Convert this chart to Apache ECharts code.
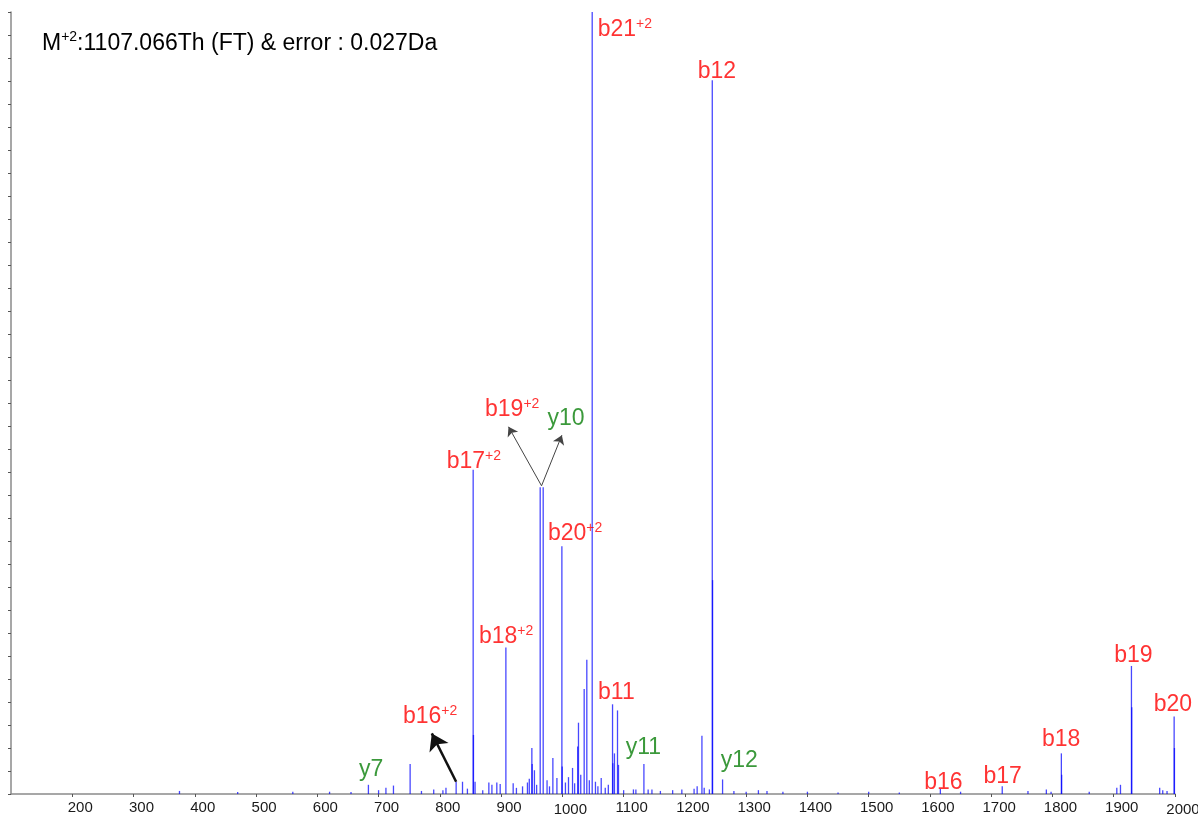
<!DOCTYPE html>
<html><head><meta charset="utf-8">
<script src="https://cdn.jsdelivr.net/npm/echarts@6/dist/echarts.min.js"></script>
<style>html,body{margin:0;padding:0;background:#fff}#c{width:1198px;height:816px}</style>
</head><body><div id="c"></div>
<script>
// ---- data (m/z, relative intensity; axis top = 102) ----
const peakMz = [375,470,560,620,655,683.4,700,712,724.3,751.5,770,790,805,810,826.6,837,845,854.4,854.9,857.5,870,880,885,893,898.5,907.8,919.7,925,935,943,946,950.2,950.7,954.4,958,963.8,968.7,975,979,984.5,991.1,999.2,999.7,1005,1010,1016.6,1020,1025,1026.3,1030,1035.6,1039.9,1044,1048.7,1054,1058,1063.4,1070,1075,1081.9,1082.4,1085,1090,1091.6,1100,1116,1120,1133.1,1140,1146.2,1160,1180,1195,1215,1220,1227.8,1231.5,1240,1244.7,1245.2,1261.5,1280,1300,1320,1334,1360,1400,1450,1500,1550,1617,1650,1718,1760,1790,1797.7,1814.5,1815,1860,1905,1911,1928.9,1929.4,1975,1980,1987,1998.6,1999.1];
const peakInt = [0.4,0.25,0.3,0.3,0.25,1.2,0.5,0.8,1.1,3.9,0.4,0.6,0.5,0.8,1.6,1.6,0.7,42.3,7.7,1.6,0.5,1.5,1.2,1.5,1.3,19.1,1.4,0.8,1.0,1.5,2.0,6.0,3.9,3.1,1.2,40.0,40.0,1.8,1.0,4.7,2.1,32.3,3.6,1.5,2.2,3.4,1.4,6.2,9.3,2.5,13.7,17.5,1.8,102,1.6,1.0,2.1,0.8,1.2,11.7,4.0,5.3,10.9,3.8,0.5,0.6,0.6,3.9,0.6,0.6,0.4,0.5,0.6,0.7,1.0,7.6,0.8,0.6,93.1,27.9,1.9,0.4,0.3,0.5,0.4,0.3,0.3,0.2,0.3,0.2,0.65,0.3,1.0,0.4,0.6,0.3,5.3,2.5,0.3,0.8,1.2,16.7,11.3,0.8,0.5,0.4,10.1,6.0];

// ion labels
const ionNames  = ['b21','b12','b17','b19','y10','b20','b18','b11','y11','y12','b16','y7','b19','b20','b16','b17','b18'];
const ionCharge = ['+2','','+2','+2','','+2','+2','','','','+2','','','','','',''];
const labelMz   = [1056.9,1220.2,810.3,872.9,974.8,975.7,863.1,1057.4,1102.6,1257.7,739.0,667.1,1900.0,1964.3,1589.7,1686.5,1781.9];
const labelInt  = [99.65,94.17,43.30,50.09,48.91,33.91,20.48,13.17,6.00,4.30,10.04,3.13,18.0,11.61,1.43,2.22,7.04];

// annotation arrows (from peak top to label)
const arrowFromMz  = [966.0, 966.0, 826.6];
const arrowFromInt = [40.2, 40.2, 1.6];
const arrowToMz    = [912.1, 999.2, 786.9];
const arrowToInt   = [47.9, 46.8, 7.9];
const arrowHeavy   = [false, false, true];

const titleMain = 'M';
const titleSup = '+2';
const titleRest = ':1107.066Th (FT) & error : 0.027Da';

const xMin = 100, xMax = 2000, xStep = 100;
const yMin = 0, yMax = 102, yStep = 3;

// ---- chart ----
const FONT = "'Liberation Sans', Arial, Helvetica, sans-serif";
const chart = echarts.init(document.getElementById('c'), null, {renderer: 'canvas'});

const peaks = peakMz.map((m, i) => [m, peakInt[i]]);
const labels = ionNames.map((n, i) => ({
  value: [labelMz[i], labelInt[i]],
  name: n,
  sup: ionCharge[i],
  kind: n.charAt(0)
}));
const arrows = arrowFromMz.map((m, i) => [
  {coord: [m, arrowFromInt[i]],
   lineStyle: {color: arrowHeavy[i] ? '#111' : '#444', width: arrowHeavy[i] ? 2.5 : 1, type: 'solid'}},
  {coord: [arrowToMz[i], arrowToInt[i]], symbolSize: arrowHeavy[i] ? 16 : 9}
]);

const axisCol = '#8a8a8a';
chart.setOption({
  animation: false,
  backgroundColor: '#fff',
  title: {
    left: 37, top: 25,
    text: '{m|' + titleMain + '}{s|' + titleSup + '}{m|' + titleRest + '}',
    textStyle: {
      fontWeight: 'normal',
      rich: {
        m: {fontSize: 23, fontFamily: FONT, fontWeight: 'normal', color: '#000', lineHeight: 28},
        s: {fontSize: 14, fontFamily: FONT, fontWeight: 'normal', color: '#000', lineHeight: 8, verticalAlign: 'top'}
      }
    }
  },
  grid: {left: 11, right: 23, top: 12, bottom: 22, containLabel: false, outerBoundsMode: 'none'},
  xAxis: {
    type: 'value', min: xMin, max: xMax, interval: xStep,
    axisLine: {lineStyle: {color: axisCol, width: 1.5}},
    axisTick: {show: true, length: 3, lineStyle: {color: '#555'}},
    splitLine: {show: false},
    axisLabel: {
      showMinLabel: false,
      margin: 6,
      padding: [0, 0, 0, 16],
      hideOverlap: false,
      formatter: v => (v % 1000 === 0) ? '{lo|' + v + '}' : '{n|' + v + '}',
      rich: {
        n: {fontSize: 15, fontFamily: FONT, color: '#1a1a1a', lineHeight: 16},
        lo: {fontSize: 15, fontFamily: FONT, color: '#1a1a1a', lineHeight: 16, padding: [3, 0, 0, 0]}
      }
    }
  },
  yAxis: {
    type: 'value', min: yMin, max: yMax, interval: yStep,
    axisLine: {show: true, lineStyle: {color: axisCol, width: 1.5}},
    axisTick: {show: true, length: 3, lineStyle: {color: '#555'}},
    axisLabel: {show: false},
    splitLine: {show: false}
  },
  series: [
    {
      type: 'custom',
      data: peaks,
      encode: {x: 0, y: 1},
      renderItem: function (params, api) {
        const p0 = api.coord([api.value(0), 0]);
        const p1 = api.coord([api.value(0), api.value(1)]);
        return {
          type: 'line',
          shape: {x1: p0[0], y1: p0[1], x2: p1[0], y2: p1[1]},
          style: {stroke: 'rgba(0,0,255,0.72)', lineWidth: 1.3}
        };
      },
      silent: true,
      z: 2
    },
    {
      type: 'scatter',
      data: labels,
      symbol: 'circle',
      symbolSize: 1,
      itemStyle: {color: 'rgba(0,0,0,0)'},
      silent: true,
      z: 5,
      label: {
        show: true,
        position: 'right',
        distance: 0,
        formatter: p => {
          const d = p.data;
          const k = d.kind === 'y' ? 'g' : 'r';
          return '{' + k + 'b|' + d.name + '}' + (d.sup ? '{' + k + 's|' + d.sup + '}' : '');
        },
        rich: {
          rb: {fontSize: 23, fontFamily: FONT, color: '#ff0000', lineHeight: 26},
          rs: {fontSize: 14, fontFamily: FONT, color: '#ff0000', lineHeight: 6, verticalAlign: 'top'},
          gb: {fontSize: 23, fontFamily: FONT, color: '#0a7f0a', lineHeight: 26},
          gs: {fontSize: 14, fontFamily: FONT, color: '#0a7f0a', lineHeight: 6, verticalAlign: 'top'}
        }
      },
      labelLayout: {hideOverlap: false},
      markLine: {
        silent: true,
        animation: false,
        symbol: ['none', 'arrow'],
        symbolSize: 9,
        label: {show: false},
        emphasis: {disabled: true},
        data: arrows
      }
    }
  ]
});
</script></body></html>
